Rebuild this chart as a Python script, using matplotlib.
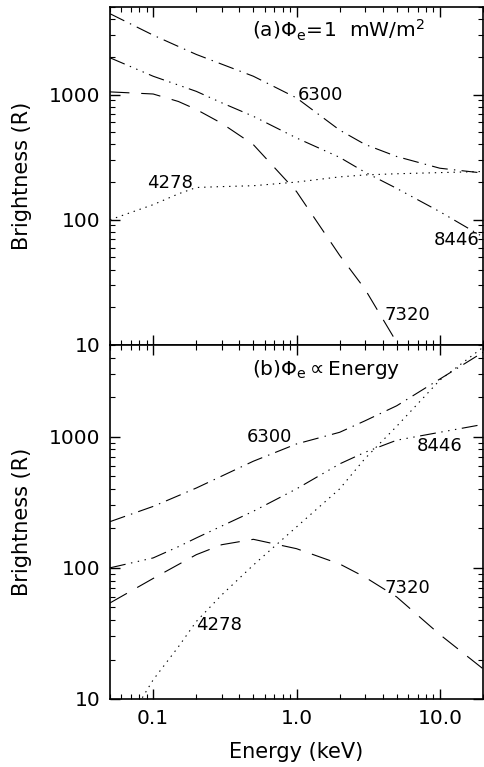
import matplotlib
matplotlib.use('Agg')
import matplotlib.pyplot as plt
from matplotlib.ticker import FixedLocator, FixedFormatter, NullFormatter, LogLocator

# energy grid (keV)
energy = [0.05, 0.1, 0.15, 0.2, 0.3, 0.5, 1.0, 2.0, 3.0, 5.0, 10.0, 20.0]

# (a) constant energy flux 1 mW/m^2, brightness in R
a_6300 = [4420, 2980, 2420, 2090, 1750, 1400, 940, 520, 400, 320, 258, 236]
a_8446 = [1965, 1400, 1190, 1060, 860, 670, 450, 315, 240, 178, 116, 73]
a_7320 = [1050, 1010, 880, 760, 590, 398, 168, 52, 28, 10.5, 2.5, 0.8]
a_4278 = [100, 132, 161, 181, 184, 187, 200, 220, 228, 233, 238, 243]

# (b) energy flux proportional to energy
b_6300 = [225, 294, 355, 406, 500, 650, 880, 1080, 1320, 1720, 2750, 4400]
b_8446 = [100, 119, 145, 169, 208, 270, 400, 620, 760, 940, 1080, 1240]
b_7320 = [54, 83, 106, 126, 150, 165, 140, 107, 85, 60, 31, 17]
b_4278 = [4, 14, 25, 39, 62, 105, 205, 400, 680, 1200, 2700, 4800]

# line labels: (text, energy, brightness)
labels_a = [('6300', 1.02, 1000), ('4278', 0.091, 198), ('8446', 9.1, 69), ('7320', 4.1, 17.4)]
labels_b = [('6300', 0.45, 1000), ('8446', 6.9, 854), ('7320', 4.1, 70), ('4278', 0.2, 36.7)]

plt.rcParams['lines.scale_dashes'] = False
plt.rcParams['font.family'] = 'DejaVu Sans'

styles = {
    '6300': (0, (11.5, 4.5, 1, 4.5)),
    '8446': (0, (11.5, 4, 1, 4, 1, 4, 1, 4)),
    '7320': (0, (14, 8.5)),
    '4278': (0, (1, 3.5)),
}

fig = plt.figure(figsize=(4.84, 7.67), dpi=100)
ax_a = fig.add_axes([110 / 484, 422 / 767, 373 / 484, 338 / 767])
ax_b = fig.add_axes([110 / 484, 68 / 767, 373 / 484, 354 / 767])

panels = [
    (ax_a, [a_6300, a_8446, a_7320, a_4278], labels_a, r'(a)$\Phi_{\rm e}\!=\!1$  mW/m$^2$'),
    (ax_b, [b_6300, b_8446, b_7320, b_4278], labels_b, r'(b)$\Phi_{\rm e}$$\propto$Energy'),
]

for ax, series, labels, title in panels:
    for name, vals in zip(['6300', '8446', '7320', '4278'], series):
        ax.plot(energy, vals, color='black', lw=0.8, linestyle=styles[name])
    for txt, xe, yb in labels:
        ax.text(xe, yb, txt, fontsize=13, ha='left', va='center')
    ax.text(0.382, 0.93, title, transform=ax.transAxes, fontsize=14.5, ha='left', va='center')

    ax.set_xscale('log')
    ax.set_yscale('log')
    ax.set_xlim(0.05, 20)
    ax.set_ylim(10, 5000)
    ax.yaxis.set_major_locator(FixedLocator([10, 100, 1000]))
    ax.yaxis.set_major_formatter(FixedFormatter(['10', '100', '1000']))
    ax.yaxis.set_minor_locator(LogLocator(base=10, subs=range(2, 10)))
    ax.yaxis.set_minor_formatter(NullFormatter())
    ax.xaxis.set_major_locator(FixedLocator([0.1, 1.0, 10.0]))
    ax.xaxis.set_minor_locator(LogLocator(base=10, subs=range(2, 10)))
    ax.xaxis.set_minor_formatter(NullFormatter())
    ax.tick_params(which='both', direction='in', top=True, right=True, labelsize=14.5, pad=7)
    ax.tick_params(which='major', length=7, width=1)
    ax.tick_params(which='minor', length=3.5, width=0.8)
    for sp in ax.spines.values():
        sp.set_linewidth(1.2)
    ax.set_ylabel('Brightness (R)', fontsize=15)
    ax.yaxis.set_label_coords(-0.21, 0.5)

ax_a.xaxis.set_major_formatter(NullFormatter())
ax_b.xaxis.set_major_formatter(FixedFormatter(['0.1', '1.0', '10.0']))
ax_b.set_xlabel('Energy (keV)', fontsize=15, labelpad=10)

fig.savefig('out.png', dpi=100)
